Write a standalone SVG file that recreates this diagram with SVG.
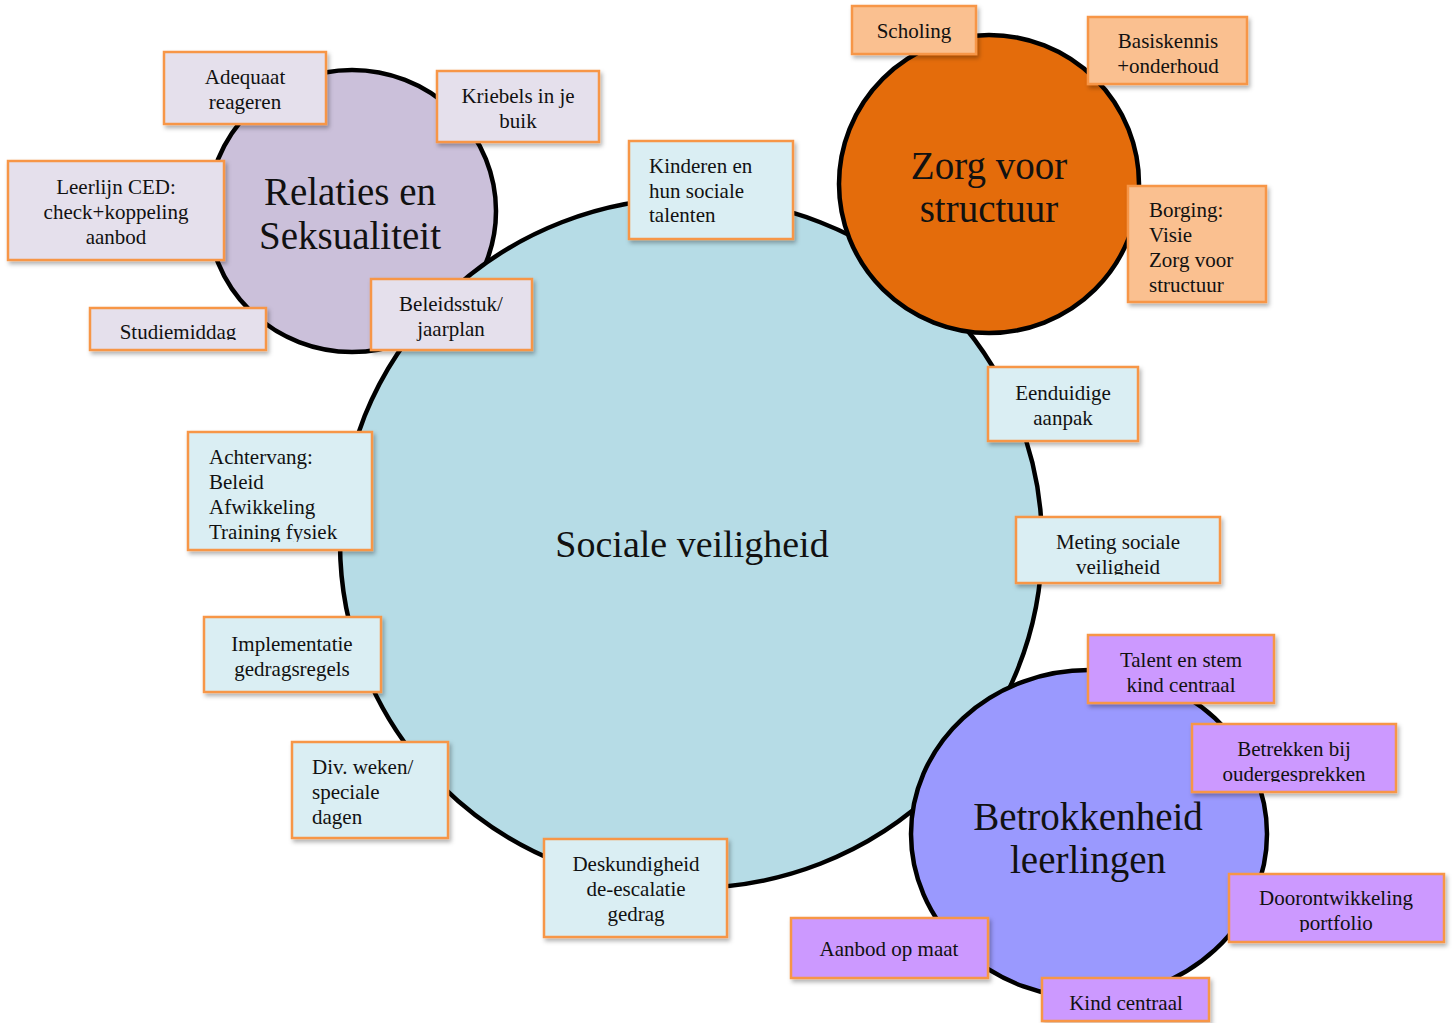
<svg xmlns="http://www.w3.org/2000/svg" width="1453" height="1023" viewBox="0 0 1453 1023">
<style>
.c{stroke:#000;stroke-width:4.5}
.b{stroke:#f79646;stroke-width:2.5;filter:url(#sh)}
.lav{fill:#e5e0ec}.blu{fill:#daeef3}.org{fill:#fac090}.pur{fill:#cc99ff}
text{font-family:"Liberation Serif","DejaVu Serif",serif;fill:#111}
.t{font-size:21px}
.m{text-anchor:middle}
.h{font-size:39px;text-anchor:middle}
</style>
<defs>
<filter id="sh" x="-10%" y="-10%" width="130%" height="140%">
<feDropShadow dx="2" dy="3" stdDeviation="2" flood-color="#000" flood-opacity="0.3"/>
</filter>
<clipPath id="k1"><rect x="90" y="308" width="176" height="32"/></clipPath>
<clipPath id="k2"><rect x="1016" y="517" width="204" height="58"/></clipPath>
<clipPath id="k3"><rect x="188" y="432" width="184" height="110"/></clipPath>
<clipPath id="k4"><rect x="1192" y="724" width="204" height="58"/></clipPath>
<clipPath id="k5"><rect x="1229" y="874" width="215" height="58"/></clipPath>
</defs>
<g id="circles">
<g id="relaties"><ellipse class="c" cx="352" cy="211" rx="144" ry="141" fill="#cbc0da"/>
<text class="h" x="350" y="205">Relaties en</text><text class="h" x="350" y="249">Seksualiteit</text></g>
<g id="sociale"><ellipse class="c" cx="691" cy="543" rx="351" ry="345" fill="#b6dce6"/>
<text class="h" x="692" y="557" style="font-size:38px">Sociale veiligheid</text></g>
<g id="zorg"><ellipse class="c" cx="989" cy="184" rx="150" ry="149" fill="#e46c0b"/>
<text class="h" x="989" y="179">Zorg voor</text><text class="h" x="989" y="222">structuur</text></g>
<g id="betrokkenheid"><ellipse class="c" cx="1089" cy="834" rx="178" ry="164" fill="#9a99fe"/>
<text class="h" x="1088" y="830">Betrokkenheid</text><text class="h" x="1088" y="873">leerlingen</text></g>
</g>
<g id="connectors"></g>
<g id="boxes">
<g id="adequaat"><rect class="b lav" x="164" y="52" width="162" height="72"/>
<text class="t m" x="245" y="84">Adequaat</text><text class="t m" x="245" y="109">reageren</text></g>
<g id="kriebels"><rect class="b lav" x="437" y="71" width="162" height="71"/>
<text class="t m" x="518" y="103">Kriebels in je</text><text class="t m" x="518" y="128">buik</text></g>
<g id="leerlijn"><rect class="b lav" x="8" y="161" width="216" height="99"/>
<text class="t m" x="116" y="194">Leerlijn CED:</text><text class="t m" x="116" y="219">check+koppeling</text><text class="t m" x="116" y="244">aanbod</text></g>
<g id="studiemiddag"><rect class="b lav" x="90" y="308" width="176" height="42"/>
<text class="t m" x="178" y="339" clip-path="url(#k1)">Studiemiddag</text></g>
<g id="beleidsstuk"><rect class="b lav" x="371" y="279" width="161" height="71"/>
<text class="t m" x="451" y="311">Beleidsstuk/</text><text class="t m" x="451" y="336">jaarplan</text></g>
<g id="kinderen"><rect class="b blu" x="629" y="141" width="164" height="98"/>
<text class="t" x="649" y="173">Kinderen en</text><text class="t" x="649" y="198">hun sociale</text><text class="t" x="649" y="222">talenten</text></g>
<g id="scholing"><rect class="b org" x="852" y="6" width="124" height="48"/>
<text class="t m" x="914" y="38">Scholing</text></g>
<g id="basiskennis"><rect class="b org" x="1088" y="17" width="159" height="67"/>
<text class="t m" x="1168" y="48">Basiskennis</text><text class="t m" x="1168" y="73">+onderhoud</text></g>
<g id="borging"><rect class="b org" x="1128" y="186" width="138" height="116"/>
<text class="t" x="1149" y="217">Borging:</text><text class="t" x="1149" y="242">Visie</text><text class="t" x="1149" y="267">Zorg voor</text><text class="t" x="1149" y="292">structuur</text></g>
<g id="eenduidige"><rect class="b blu" x="988" y="367" width="150" height="74"/>
<text class="t m" x="1063" y="400">Eenduidige</text><text class="t m" x="1063" y="425">aanpak</text></g>
<g id="meting"><rect class="b blu" x="1016" y="517" width="204" height="66"/>
<text class="t m" x="1118" y="549">Meting sociale</text><text class="t m" x="1118" y="574" clip-path="url(#k2)">veiligheid</text></g>
<g id="achtervang"><rect class="b blu" x="188" y="432" width="184" height="118"/>
<g clip-path="url(#k3)"><text class="t" x="209" y="464">Achtervang:</text><text class="t" x="209" y="489">Beleid</text><text class="t" x="209" y="514">Afwikkeling</text><text class="t" x="209" y="539">Training fysiek</text></g></g>
<g id="implementatie"><rect class="b blu" x="204" y="617" width="177" height="75"/>
<text class="t m" x="292" y="651">Implementatie</text><text class="t m" x="292" y="676">gedragsregels</text></g>
<g id="divweken"><rect class="b blu" x="292" y="742" width="156" height="96"/>
<text class="t" x="312" y="774">Div. weken/</text><text class="t" x="312" y="799">speciale</text><text class="t" x="312" y="824">dagen</text></g>
<g id="deskundigheid"><rect class="b blu" x="544" y="839" width="183" height="98"/>
<text class="t m" x="636" y="871">Deskundigheid</text><text class="t m" x="636" y="896">de-escalatie</text><text class="t m" x="636" y="921">gedrag</text></g>
<g id="talent"><rect class="b pur" x="1088" y="635" width="186" height="68"/>
<text class="t m" x="1181" y="667">Talent en stem</text><text class="t m" x="1181" y="692">kind centraal</text></g>
<g id="betrekken"><rect class="b pur" x="1192" y="724" width="204" height="68"/>
<text class="t m" x="1294" y="756">Betrekken bij</text><text class="t m" x="1294" y="781" clip-path="url(#k4)">oudergesprekken</text></g>
<g id="doorontwikkeling"><rect class="b pur" x="1229" y="874" width="215" height="68"/>
<text class="t m" x="1336" y="905">Doorontwikkeling</text><text class="t m" x="1336" y="930" clip-path="url(#k5)">portfolio</text></g>
<g id="aanbod"><rect class="b pur" x="791" y="918" width="197" height="60"/>
<text class="t m" x="889" y="956">Aanbod op maat</text></g>
<g id="kindcentraal"><rect class="b pur" x="1042" y="978" width="167" height="43"/>
<text class="t m" x="1126" y="1010">Kind centraal</text></g>
</g>
</svg>
